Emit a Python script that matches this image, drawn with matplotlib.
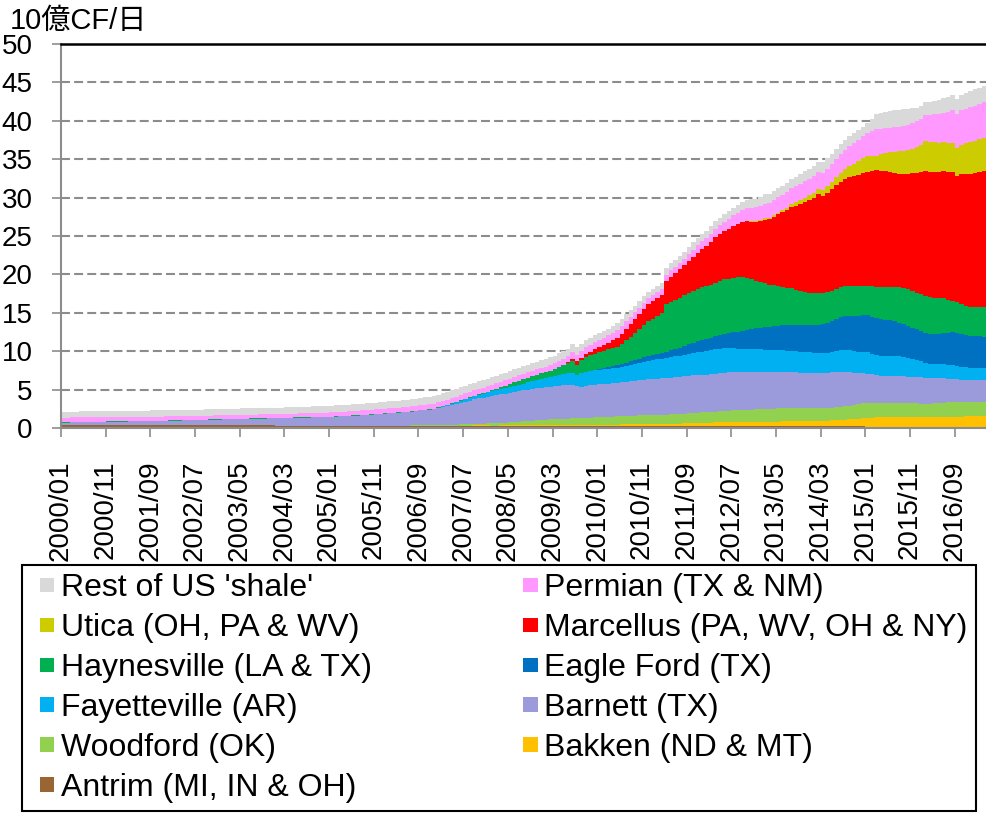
import numpy as np
import matplotlib
matplotlib.use("Agg")
import matplotlib.pyplot as plt
import matplotlib.patches as mpatches
from matplotlib.legend_handler import HandlerPatch

plt.rcParams['font.family'] = ['Liberation Sans', 'Noto Sans CJK JP', 'DejaVu Sans']

# monthly shale gas production, billion cubic feet per day, 2000/01 .. 2017/03
antrim = [
    0.35, 0.35, 0.35, 0.35, 0.35, 0.35, 0.35, 0.35, 0.35, 0.35, 0.35, 0.35,  # 2000
    0.35, 0.35, 0.35, 0.35, 0.34, 0.34, 0.34, 0.34, 0.34, 0.34, 0.34, 0.34,  # 2001
    0.34, 0.34, 0.34, 0.34, 0.34, 0.34, 0.33, 0.33, 0.33, 0.33, 0.33, 0.33,  # 2002
    0.33, 0.33, 0.33, 0.33, 0.33, 0.33, 0.33, 0.33, 0.33, 0.33, 0.33, 0.33,  # 2003
    0.32, 0.32, 0.32, 0.32, 0.32, 0.32, 0.32, 0.32, 0.32, 0.32, 0.32, 0.32,  # 2004
    0.32, 0.32, 0.32, 0.32, 0.32, 0.32, 0.31, 0.31, 0.31, 0.31, 0.31, 0.31,  # 2005
    0.31, 0.31, 0.31, 0.31, 0.31, 0.31, 0.31, 0.31, 0.31, 0.31, 0.31, 0.31,  # 2006
    0.30, 0.30, 0.30, 0.30, 0.30, 0.30, 0.30, 0.30, 0.30, 0.30, 0.30, 0.30,  # 2007
    0.29, 0.29, 0.29, 0.29, 0.29, 0.29, 0.29, 0.29, 0.29, 0.29, 0.29, 0.29,  # 2008
    0.28, 0.28, 0.28, 0.28, 0.28, 0.28, 0.28, 0.28, 0.28, 0.28, 0.28, 0.28,  # 2009
    0.27, 0.27, 0.27, 0.27, 0.27, 0.27, 0.27, 0.27, 0.27, 0.27, 0.27, 0.27,  # 2010
    0.26, 0.26, 0.26, 0.26, 0.26, 0.26, 0.26, 0.26, 0.26, 0.26, 0.26, 0.26,  # 2011
    0.24, 0.24, 0.24, 0.24, 0.24, 0.24, 0.24, 0.24, 0.24, 0.24, 0.24, 0.24,  # 2012
    0.22, 0.22, 0.22, 0.22, 0.22, 0.22, 0.22, 0.22, 0.22, 0.22, 0.22, 0.22,  # 2013
    0.20, 0.20, 0.20, 0.20, 0.20, 0.20, 0.20, 0.20, 0.20, 0.20, 0.20, 0.20,  # 2014
    0.18, 0.18, 0.18, 0.18, 0.18, 0.18, 0.18, 0.18, 0.18, 0.18, 0.18, 0.18,  # 2015
    0.16, 0.16, 0.16, 0.16, 0.16, 0.16, 0.16, 0.16, 0.16, 0.16, 0.16, 0.16,  # 2016
    0.15, 0.15, 0.15,                                                        # 2017
]

bakken = [0.0] * 84 + [
    0.01, 0.01, 0.01, 0.02, 0.02, 0.02, 0.02, 0.02, 0.03, 0.03, 0.03, 0.03,  # 2007
    0.03, 0.03, 0.04, 0.04, 0.05, 0.05, 0.06, 0.06, 0.07, 0.07, 0.08, 0.08,  # 2008
    0.08, 0.09, 0.09, 0.10, 0.10, 0.10, 0.11, 0.11, 0.12, 0.12, 0.13, 0.13,  # 2009
    0.14, 0.15, 0.16, 0.17, 0.18, 0.19, 0.20, 0.21, 0.22, 0.23, 0.24, 0.25,  # 2010
    0.26, 0.27, 0.28, 0.29, 0.30, 0.31, 0.32, 0.34, 0.36, 0.38, 0.40, 0.42,  # 2011
    0.44, 0.46, 0.48, 0.50, 0.52, 0.53, 0.54, 0.55, 0.56, 0.57, 0.58, 0.58,  # 2012
    0.59, 0.60, 0.60, 0.61, 0.62, 0.63, 0.64, 0.65, 0.66, 0.67, 0.68, 0.68,  # 2013
    0.70, 0.72, 0.74, 0.77, 0.80, 0.83, 0.86, 0.90, 0.94, 0.98, 1.02, 1.05,  # 2014
    1.07, 1.15, 1.22, 1.24, 1.25, 1.26, 1.26, 1.27, 1.27, 1.28, 1.28, 1.29,  # 2015
    1.30, 1.30, 1.31, 1.31, 1.32, 1.32, 1.32, 1.33, 1.33, 1.33, 1.34, 1.34,  # 2016
    1.35, 1.35, 1.36,                                                        # 2017
]

woodford = [0.0] * 76 + [
    0.01, 0.01, 0.02, 0.02, 0.03, 0.03, 0.04, 0.05,                          # 2006/05-
    0.06, 0.07, 0.08, 0.10, 0.12, 0.14, 0.16, 0.18, 0.20, 0.22, 0.24, 0.26,  # 2007
    0.28, 0.30, 0.33, 0.36, 0.40, 0.44, 0.48, 0.52, 0.56, 0.60, 0.64, 0.68,  # 2008
    0.72, 0.75, 0.78, 0.80, 0.82, 0.84, 0.86, 0.88, 0.90, 0.92, 0.94, 0.96,  # 2009
    0.98, 1.00, 1.02, 1.04, 1.06, 1.08, 1.10, 1.11, 1.12, 1.13, 1.14, 1.15,  # 2010
    1.16, 1.17, 1.18, 1.20, 1.22, 1.24, 1.26, 1.28, 1.30, 1.32, 1.34, 1.36,  # 2011
    1.38, 1.40, 1.42, 1.44, 1.46, 1.48, 1.50, 1.52, 1.54, 1.56, 1.58, 1.60,  # 2012
    1.62, 1.64, 1.66, 1.68, 1.70, 1.72, 1.73, 1.72, 1.70, 1.68, 1.67, 1.66,  # 2013
    1.65, 1.65, 1.64, 1.64, 1.65, 1.66, 1.68, 1.70, 1.75, 1.80, 1.88, 1.95,  # 2014
    1.95, 1.94, 1.92, 1.90, 1.88, 1.86, 1.84, 1.82, 1.80, 1.78, 1.76, 1.74,  # 2015
    1.72, 1.70, 1.72, 1.74, 1.76, 1.80, 1.85, 1.90, 1.92, 1.92, 1.90, 1.90,  # 2016
    1.90, 1.92, 1.90,                                                        # 2017
]

barnett = [
    0.35, 0.36, 0.37, 0.38, 0.39, 0.40, 0.41, 0.42, 0.43, 0.44, 0.45, 0.46,  # 2000
    0.47, 0.48, 0.49, 0.50, 0.51, 0.52, 0.53, 0.54, 0.55, 0.56, 0.57, 0.58,  # 2001
    0.60, 0.62, 0.63, 0.65, 0.66, 0.68, 0.69, 0.70, 0.72, 0.73, 0.75, 0.76,  # 2002
    0.78, 0.79, 0.80, 0.82, 0.83, 0.84, 0.86, 0.87, 0.88, 0.90, 0.91, 0.92,  # 2003
    0.94, 0.95, 0.97, 0.98, 1.00, 1.01, 1.03, 1.04, 1.06, 1.07, 1.09, 1.10,  # 2004
    1.12, 1.15, 1.18, 1.21, 1.24, 1.27, 1.30, 1.34, 1.38, 1.42, 1.46, 1.50,  # 2005
    1.54, 1.58, 1.62, 1.66, 1.70, 1.75, 1.80, 1.85, 1.95, 2.00, 2.05, 2.12,  # 2006
    2.22, 2.34, 2.46, 2.58, 2.70, 2.82, 2.95, 3.08, 3.20, 3.30, 3.40, 3.50,  # 2007
    3.58, 3.66, 3.72, 3.78, 3.85, 3.90, 3.96, 4.02, 4.08, 4.12, 4.16, 4.20,  # 2008
    4.25, 4.28, 4.32, 4.35, 4.38, 4.36, 4.30, 4.15, 4.10, 4.15, 4.20, 4.25,  # 2009
    4.28, 4.30, 4.32, 4.34, 4.36, 4.40, 4.45, 4.50, 4.55, 4.60, 4.65, 4.68,  # 2010
    4.70, 4.72, 4.74, 4.76, 4.78, 4.80, 4.82, 4.84, 4.86, 4.88, 4.90, 4.92,  # 2011
    4.90, 4.92, 4.94, 4.96, 4.98, 5.00, 5.00, 4.98, 4.96, 4.92, 4.88, 4.84,  # 2012
    4.80, 4.78, 4.76, 4.75, 4.74, 4.72, 4.70, 4.68, 4.66, 4.64, 4.62, 4.60,  # 2013
    4.58, 4.56, 4.55, 4.56, 4.58, 4.60, 4.58, 4.55, 4.40, 4.20, 4.00, 3.90,  # 2014
    3.85, 3.70, 3.55, 3.50, 3.50, 3.50, 3.50, 3.50, 3.48, 3.46, 3.44, 3.42,  # 2015
    3.40, 3.35, 3.30, 3.28, 3.25, 3.20, 3.10, 3.00, 2.95, 2.90, 2.88, 2.86,  # 2016
    2.85, 2.85, 2.85,                                                        # 2017
]

fayetteville = [0.0] * 84 + [
    0.05, 0.08, 0.12, 0.16, 0.20, 0.25, 0.30, 0.35, 0.40, 0.45, 0.50, 0.55,  # 2007
    0.60, 0.64, 0.68, 0.72, 0.76, 0.80, 0.85, 0.90, 0.95, 1.00, 1.05, 1.10,  # 2008
    1.15, 1.20, 1.30, 1.40, 1.50, 1.60, 1.65, 1.50, 1.70, 1.80, 1.85, 1.90,  # 2009
    1.92, 1.94, 1.96, 1.98, 2.00, 2.05, 2.10, 2.15, 2.20, 2.25, 2.30, 2.40,  # 2010
    2.45, 2.50, 2.55, 2.60, 2.65, 2.70, 2.75, 2.80, 2.85, 2.90, 2.95, 3.00,  # 2011
    3.05, 3.10, 3.15, 3.20, 3.20, 3.15, 3.10, 3.05, 3.00, 3.00, 3.00, 3.00,  # 2012
    3.00, 2.95, 2.90, 2.90, 2.85, 2.85, 2.80, 2.80, 2.75, 2.75, 2.70, 2.70,  # 2013
    2.65, 2.60, 2.60, 2.65, 2.70, 2.75, 2.80, 2.85, 2.85, 2.85, 2.80, 2.80,  # 2014
    2.80, 2.70, 2.60, 2.60, 2.60, 2.60, 2.60, 2.55, 2.50, 2.40, 2.30, 2.20,  # 2015
    2.10, 2.00, 1.90, 1.85, 1.80, 1.80, 1.75, 1.75, 1.70, 1.65, 1.62, 1.60,  # 2016
    1.58, 1.55, 1.55,                                                        # 2017
]

eagle_ford = [0.0] * 117 + [
    0.02, 0.05, 0.08,                                                        # 2009/10-
    0.10, 0.15, 0.20, 0.25, 0.30, 0.35, 0.40, 0.45, 0.50, 0.55, 0.60, 0.65,  # 2010
    0.70, 0.75, 0.80, 0.85, 0.90, 0.95, 1.05, 1.15, 1.25, 1.35, 1.45, 1.50,  # 2011
    1.55, 1.60, 1.70, 1.80, 1.90, 2.00, 2.10, 2.20, 2.35, 2.50, 2.60, 2.70,  # 2012
    2.85, 2.95, 3.00, 3.10, 3.20, 3.25, 3.30, 3.35, 3.40, 3.45, 3.50, 3.55,  # 2013
    3.60, 3.70, 3.80, 3.90, 4.00, 4.15, 4.30, 4.40, 4.50, 4.60, 4.70, 4.75,  # 2014
    4.80, 4.80, 4.80, 4.75, 4.70, 4.60, 4.50, 4.40, 4.30, 4.20, 4.10, 4.00,  # 2015
    3.95, 3.90, 3.90, 3.95, 4.00, 4.10, 4.20, 4.30, 4.30, 4.25, 4.20, 4.15,  # 2016
    4.10, 4.10, 4.05,                                                        # 2017
]

haynesville = [0.05] * 84 + [
    0.05, 0.05, 0.06, 0.06, 0.07, 0.07, 0.08, 0.08, 0.09, 0.09, 0.10, 0.10,  # 2007
    0.15, 0.20, 0.25, 0.30, 0.38, 0.45, 0.50, 0.55, 0.60, 0.65, 0.70, 0.75,  # 2008
    0.80, 0.85, 0.90, 1.00, 1.15, 1.30, 1.50, 1.30, 1.70, 1.90, 2.00, 2.10,  # 2009
    2.15, 2.20, 2.30, 2.35, 2.40, 2.60, 2.90, 3.20, 3.50, 3.80, 4.20, 4.50,  # 2010
    4.70, 4.90, 5.10, 6.20, 6.30, 6.40, 6.50, 6.60, 6.75, 6.80, 6.85, 6.90,  # 2011
    6.90, 6.95, 7.00, 7.00, 7.05, 7.05, 7.10, 7.10, 7.05, 6.80, 6.50, 6.20,  # 2012
    5.90, 5.70, 5.50, 5.35, 5.20, 5.00, 4.90, 4.80, 4.60, 4.40, 4.30, 4.20,  # 2013
    4.15, 4.10, 4.05, 4.00, 3.95, 3.90, 3.90, 3.90, 3.90, 3.90, 3.90, 3.90,  # 2014
    3.90, 4.00, 4.10, 4.20, 4.30, 4.40, 4.50, 4.60, 4.70, 4.75, 4.80, 4.80,  # 2015
    4.80, 4.80, 4.75, 4.70, 4.60, 4.50, 4.30, 4.15, 4.00, 3.90, 3.85, 3.80,  # 2016
    3.85, 3.90, 3.95,                                                        # 2017
]

marcellus = [0.0] * 113 + [
    0.05, 0.30, 0.45, 0.35, 0.45, 0.50, 0.60,                                # 2009/06-
    0.65, 0.75, 0.85, 1.00, 1.20, 1.35, 1.50, 1.65, 1.80, 1.95, 2.10, 2.20,  # 2010
    2.25, 2.30, 2.35, 3.00, 3.30, 3.50, 3.70, 3.90, 4.10, 4.40, 4.70, 5.00,  # 2011
    5.30, 5.60, 5.90, 6.10, 6.30, 6.50, 6.70, 6.90, 7.10, 7.30, 7.50, 7.70,  # 2012
    8.00, 8.30, 8.60, 8.90, 9.30, 9.70, 10.10, 10.50, 10.90, 11.30, 11.70, 12.10,  # 2013
    12.40, 13.00, 12.60, 12.90, 13.20, 13.50, 13.70, 13.90, 14.10, 14.30, 14.50, 14.70,  # 2014
    14.80, 15.00, 15.20, 15.10, 15.00, 14.90, 14.80, 14.70, 14.80, 15.00, 15.30, 15.60,  # 2015
    15.90, 16.20, 16.30, 16.40, 16.50, 16.60, 16.70, 16.80, 16.50, 16.90, 17.10, 17.30,  # 2016
    17.40, 17.50, 17.60,                                                     # 2017
]

utica = [0.0] * 152 + [
    0.02, 0.05, 0.08, 0.10,                                                  # 2012/09-
    0.12, 0.14, 0.16, 0.18, 0.20, 0.25, 0.30, 0.40, 0.50, 0.55, 0.60, 0.62,  # 2013
    0.65, 0.60, 0.75, 0.85, 0.95, 1.05, 1.15, 1.30, 1.45, 1.60, 1.75, 1.90,  # 2014
    2.10, 2.00, 1.90, 2.20, 2.40, 2.60, 2.80, 3.00, 3.10, 3.15, 3.20, 3.30,  # 2015
    3.50, 3.90, 3.85, 3.80, 3.75, 3.70, 3.70, 3.70, 3.60, 3.90, 4.00, 4.10,  # 2016
    4.20, 4.30, 4.40,                                                        # 2017
]

permian = [
    0.60, 0.60, 0.60, 0.59, 0.59, 0.59, 0.58, 0.58, 0.58, 0.57, 0.57, 0.57,  # 2000
    0.56, 0.56, 0.56, 0.55, 0.55, 0.55, 0.54, 0.54, 0.54, 0.53, 0.53, 0.53,  # 2001
    0.52, 0.52, 0.52, 0.51, 0.51, 0.51, 0.50, 0.50, 0.50, 0.50, 0.50, 0.50,  # 2002
    0.50, 0.50, 0.50, 0.50, 0.50, 0.50, 0.50, 0.50, 0.50, 0.50, 0.50, 0.50,  # 2003
    0.50, 0.50, 0.50, 0.50, 0.51, 0.51, 0.52, 0.52, 0.53, 0.53, 0.54, 0.54,  # 2004
    0.55, 0.55, 0.56, 0.56, 0.57, 0.57, 0.58, 0.58, 0.59, 0.59, 0.60, 0.60,  # 2005
    0.60, 0.61, 0.61, 0.62, 0.62, 0.63, 0.63, 0.64, 0.64, 0.65, 0.65, 0.66,  # 2006
    0.66, 0.66, 0.67, 0.67, 0.68, 0.68, 0.69, 0.69, 0.70, 0.70, 0.70, 0.70,  # 2007
    0.70, 0.70, 0.70, 0.70, 0.70, 0.70, 0.70, 0.70, 0.70, 0.70, 0.70, 0.70,  # 2008
    0.72, 0.74, 0.76, 0.78, 0.80, 0.82, 0.84, 0.86, 0.88, 0.90, 0.92, 0.94,  # 2009
    0.95, 0.96, 0.97, 0.98, 1.00, 1.00, 1.00, 0.95, 0.90, 0.85, 0.80, 0.80,  # 2010
    0.80, 0.80, 0.80, 0.82, 0.84, 0.86, 0.88, 0.90, 0.92, 0.94, 0.96, 0.98,  # 2011
    1.00, 1.05, 1.10, 1.15, 1.20, 1.30, 1.40, 1.50, 1.60, 1.70, 1.75, 1.80,  # 2012
    1.85, 1.90, 1.95, 2.00, 2.00, 2.05, 2.05, 2.10, 2.10, 2.10, 2.15, 2.15,  # 2013
    2.20, 2.20, 2.25, 2.30, 2.35, 2.40, 2.45, 2.50, 2.60, 2.70, 2.80, 2.90,  # 2014
    3.00, 3.20, 3.40, 3.30, 3.25, 3.20, 3.20, 3.20, 3.25, 3.30, 3.35, 3.40,  # 2015
    3.45, 3.50, 3.60, 3.70, 3.80, 3.90, 4.10, 4.30, 4.40, 4.45, 4.50, 4.55,  # 2016
    4.60, 4.60, 4.65,                                                        # 2017
]

rest = [
    0.75, 0.75, 0.76, 0.76, 0.77, 0.77, 0.78, 0.78, 0.78, 0.79, 0.79, 0.79,  # 2000
    0.80, 0.80, 0.80, 0.80, 0.80, 0.80, 0.80, 0.80, 0.80, 0.80, 0.80, 0.80,  # 2001
    0.80, 0.80, 0.80, 0.81, 0.81, 0.81, 0.81, 0.81, 0.82, 0.82, 0.82, 0.82,  # 2002
    0.82, 0.82, 0.83, 0.83, 0.83, 0.83, 0.83, 0.84, 0.84, 0.84, 0.84, 0.84,  # 2003
    0.84, 0.84, 0.85, 0.85, 0.85, 0.85, 0.85, 0.86, 0.86, 0.86, 0.86, 0.86,  # 2004
    0.85, 0.86, 0.86, 0.87, 0.87, 0.88, 0.88, 0.89, 0.89, 0.90, 0.90, 0.90,  # 2005
    0.90, 0.91, 0.92, 0.93, 0.94, 0.95, 0.96, 0.97, 0.98, 0.99, 1.00, 1.00,  # 2006
    1.00, 1.00, 1.00, 1.00, 1.00, 1.00, 1.00, 1.00, 1.00, 1.00, 1.00, 1.00,  # 2007
    1.00, 1.00, 1.00, 1.00, 1.00, 1.00, 1.00, 1.00, 1.00, 1.00, 1.00, 1.00,  # 2008
    1.00, 1.00, 1.00, 1.00, 1.00, 1.00, 1.10, 1.00, 0.90, 0.90, 0.90, 0.90,  # 2009
    0.90, 0.90, 0.90, 0.90, 0.90, 0.90, 0.88, 0.86, 0.85, 0.85, 0.85, 0.85,  # 2010
    0.85, 0.85, 0.86, 0.87, 0.88, 0.89, 0.90, 0.91, 0.92, 0.93, 0.94, 0.95,  # 2011
    0.95, 0.96, 0.97, 0.98, 0.99, 1.00, 1.02, 1.04, 1.06, 1.08, 1.09, 1.10,  # 2012
    1.10, 1.25, 1.12, 1.14, 1.16, 1.18, 1.20, 1.22, 1.24, 1.26, 1.28, 1.30,  # 2013
    1.30, 1.35, 1.40, 1.35, 1.30, 1.30, 1.30, 1.30, 1.30, 1.25, 1.20, 1.20,  # 2014
    1.20, 1.60, 2.00, 2.10, 2.10, 2.20, 2.20, 2.20, 2.10, 2.00, 1.90, 1.80,  # 2015
    1.70, 1.70, 1.70, 1.75, 1.80, 1.85, 1.90, 2.00, 2.00, 2.00, 2.05, 2.10,  # 2016
    2.10, 2.10, 2.10,                                                        # 2017
]

tick_labels = ['2000/01', '2000/11', '2001/09', '2002/07', '2003/05', '2004/03',
               '2005/01', '2005/11', '2006/09', '2007/07', '2008/05', '2009/03',
               '2010/01', '2010/11', '2011/09', '2012/07', '2013/05', '2014/03',
               '2015/01', '2015/11', '2016/09']

# bottom to top
series = [
    ("Antrim (MI, IN & OH)", antrim, '#996633'),
    ("Bakken (ND & MT)", bakken, '#FFC000'),
    ("Woodford (OK)", woodford, '#92D050'),
    ("Barnett (TX)", barnett, '#9B9BDB'),
    ("Fayetteville (AR)", fayetteville, '#00B0F0'),
    ("Eagle Ford (TX)", eagle_ford, '#0070C0'),
    ("Haynesville (LA & TX)", haynesville, '#00B050'),
    ("Marcellus (PA, WV, OH & NY)", marcellus, '#FF0000'),
    ("Utica (OH, PA & WV)", utica, '#CCCC00'),
    ("Permian (TX & NM)", permian, '#FF99FF'),
    ("Rest of US 'shale'", rest, '#D9D9D9'),
]

n = len(antrim)
x = np.arange(n + 1)
ys = [np.append(s[1], s[1][-1]) for s in series]

fig = plt.figure(figsize=(9.86, 8.14), dpi=100)
ax = fig.add_axes([61 / 986, 1 - 428 / 814, 925 / 986, 384 / 814])

ax.stackplot(x, ys, colors=[s[2] for s in series], step='post',
             linewidth=0, antialiased=False, zorder=2)

ax.set_xlim(0, n)
ax.set_ylim(0, 50)
ax.set_yticks(np.arange(0, 51, 5))
ax.set_xticks(np.arange(0, n, 10))
ax.set_xticklabels(tick_labels, rotation=90)

ax.set_axisbelow(True)
ax.yaxis.grid(True, color='#8C8C8C', linewidth=1.5, linestyle=(0, (4.3, 2.0)))
ax.xaxis.grid(False)

for side in ['left', 'bottom']:
    ax.spines[side].set_color('#8C8C8C')
    ax.spines[side].set_linewidth(1.5)
ax.spines['top'].set_color('black')
ax.spines['top'].set_linewidth(1.8)
ax.spines['right'].set_visible(False)

ax.tick_params(axis='both', direction='out', length=6.5, width=1.2,
               color='#8C8C8C', labelsize=20)
ax.tick_params(axis='y', pad=14)
ax.tick_params(axis='x', pad=17)

fig.text(10 / 986, 1 - 21 / 814, '10億CF/日', fontsize=21, ha='left', va='center')


def square_patch(legend, orig_handle, xdescent, ydescent, width, height, fontsize):
    s = 0.46 * fontsize
    return mpatches.Rectangle((-xdescent + width - s, -ydescent + (height - s) / 2), s, s)


order = ["Rest of US 'shale'", "Utica (OH, PA & WV)", "Haynesville (LA & TX)",
         "Fayetteville (AR)", "Woodford (OK)", "Antrim (MI, IN & OH)",
         "Permian (TX & NM)", "Marcellus (PA, WV, OH & NY)", "Eagle Ford (TX)",
         "Barnett (TX)", "Bakken (ND & MT)"]
color_of = {s[0]: s[2] for s in series}
handles = [mpatches.Patch(facecolor=color_of[k], edgecolor='none', label=k) for k in order]

leg = fig.legend(handles=handles, labels=order, loc='upper left',
                 bbox_to_anchor=(22 / 986, 2 / 814, 954 / 986, 247 / 814),
                 mode='expand', ncol=2, fontsize=23, frameon=True, fancybox=False,
                 edgecolor='black', framealpha=1, borderpad=0.26,
                 handlelength=0.75, handleheight=0.7, handletextpad=0.2,
                 labelspacing=0.31, borderaxespad=0,
                 handler_map={mpatches.Patch: HandlerPatch(patch_func=square_patch)})
leg.get_frame().set_linewidth(1.5)
leg.set_zorder(10)

fig.savefig('out.png', dpi=100)
